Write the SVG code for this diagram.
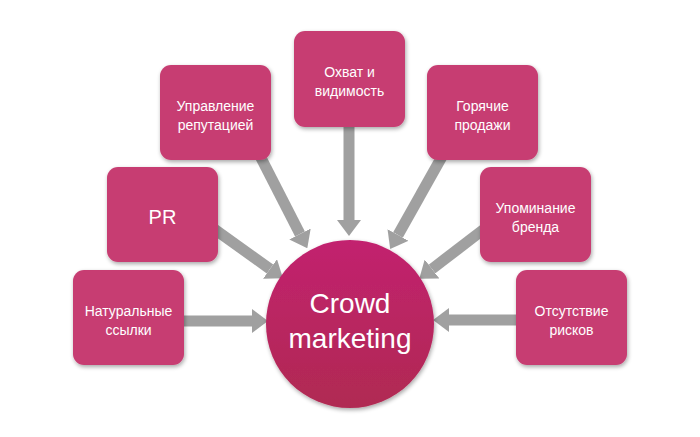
<svg xmlns="http://www.w3.org/2000/svg" width="700" height="437" viewBox="0 0 700 437">
<defs>
<style>
.box{fill:#c73e72;filter:url(#sh);}
.t{fill:#ffffff;font-family:"Liberation Sans","Noto Sans",sans-serif;font-size:14px;text-anchor:middle;}
.big{font-size:28px;}
.pr{font-size:20px;}
.arr{stroke:#a0a0a0;stroke-width:11;fill:none;marker-end:url(#ah);}
</style>
<marker id="ah" markerUnits="userSpaceOnUse" markerWidth="16" markerHeight="24" refX="0" refY="12" orient="auto">
<path d="M0,0 L16,12 L0,24 z" fill="#a0a0a0"/>
</marker>
<linearGradient id="cg" x1="0" y1="0" x2="0" y2="1">
<stop offset="0" stop-color="#c2226f"/>
<stop offset="1" stop-color="#b02a52"/>
</linearGradient>
<filter id="sh" x="-20%" y="-20%" width="140%" height="150%">
<feGaussianBlur in="SourceAlpha" stdDeviation="2"/>
<feOffset dx="1" dy="2" result="b"/>
<feComponentTransfer><feFuncA type="linear" slope="0.35"/></feComponentTransfer>
<feMerge><feMergeNode/><feMergeNode in="SourceGraphic"/></feMerge>
</filter>
</defs>
<rect width="700" height="437" fill="#ffffff"/>
<g id="connectors">
<line class="arr" x1="184" y1="321" x2="252" y2="321"/>
<line class="arr" x1="210" y1="226" x2="270" y2="269"/>
<line class="arr" x1="258" y1="152" x2="300" y2="234"/>
<line class="arr" x1="349" y1="120" x2="349" y2="220"/>
<line class="arr" x1="444" y1="153" x2="398" y2="235"/>
<line class="arr" x1="488" y1="226" x2="432" y2="269"/>
<line class="arr" x1="516" y1="320" x2="449" y2="320"/>
</g>
<g id="center">
<circle cx="350" cy="324" r="84" fill="url(#cg)" filter="url(#sh)"/>
<text class="t big" x="350" y="313">Crowd</text>
<text class="t big" x="350" y="348">marketing</text>
</g>
<g id="n1"><rect class="box" x="73" y="270" width="111" height="95" rx="11"/>
<text class="t" x="128.5" y="316">Натуральные</text><text class="t" x="128.5" y="335">ссылки</text></g>
<g id="n2"><rect class="box" x="107" y="167" width="111" height="95" rx="11"/>
<text class="t pr" x="162.5" y="224">PR</text></g>
<g id="n3"><rect class="box" x="160" y="65" width="111" height="95" rx="11"/>
<text class="t" x="215.5" y="111">Управление</text><text class="t" x="215.5" y="130">репутацией</text></g>
<g id="n4"><rect class="box" x="294" y="31" width="111" height="96" rx="11"/>
<text class="t" x="349.5" y="77">Охват и</text><text class="t" x="349.5" y="96">видимость</text></g>
<g id="n5"><rect class="box" x="427" y="65" width="111" height="95" rx="11"/>
<text class="t" x="482.5" y="111">Горячие</text><text class="t" x="482.5" y="130">продажи</text></g>
<g id="n6"><rect class="box" x="480" y="167" width="111" height="95" rx="11"/>
<text class="t" x="535.5" y="213">Упоминание</text><text class="t" x="535.5" y="232">бренда</text></g>
<g id="n7"><rect class="box" x="516" y="270" width="111" height="95" rx="11"/>
<text class="t" x="571.5" y="316">Отсутствие</text><text class="t" x="571.5" y="335">рисков</text></g>
</svg>
